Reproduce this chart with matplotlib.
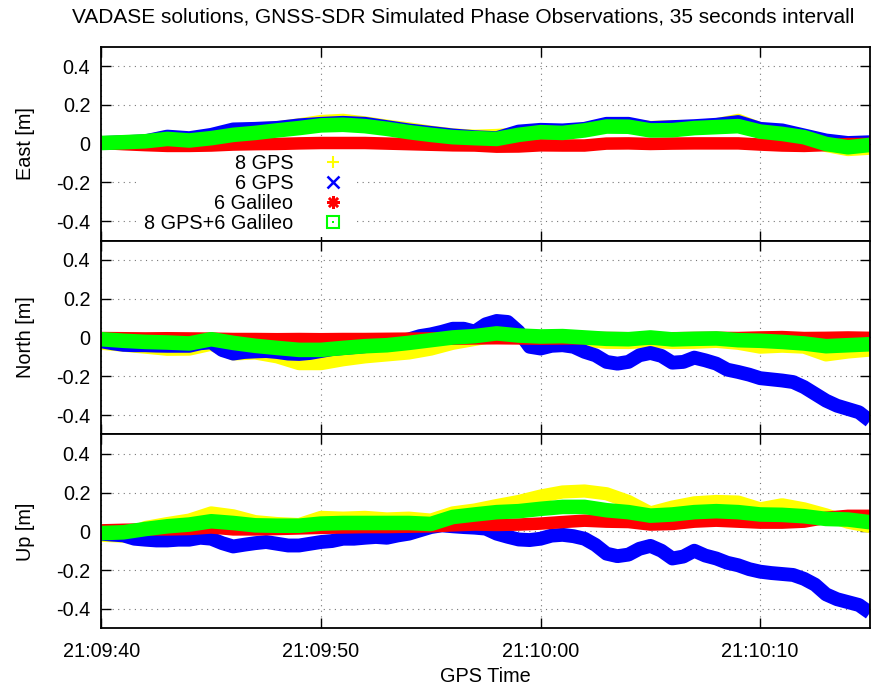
import numpy as np
import matplotlib.pyplot as plt
from matplotlib.lines import Line2D
from matplotlib.ticker import FuncFormatter, MultipleLocator

plt.rcParams['font.family'] = ['Liberation Sans', 'DejaVu Sans']
plt.rcParams['font.size'] = 14.3

# time axis, seconds after 21:09:40
t_coarse = np.arange(0, 36, 1.0)
t_fine = np.arange(0, 35.5, 0.5)

# East [m]
east_8gps = [0.003, 0.007, 0.012, 0.036, 0.024, 0.042, 0.069, 0.076, 0.081, 0.097, 0.114, 0.12,
             0.107, 0.09, 0.076, 0.059, 0.045, 0.038, 0.042, 0.05, 0.062, 0.062, 0.076, 0.097,
             0.097, 0.083, 0.088, 0.088, 0.097, 0.12, 0.076, 0.062, 0.033, -0.010, -0.031, -0.024]
east_6gps = [0.003, 0.007, 0.012, 0.036, 0.028, 0.045, 0.073, 0.076, 0.081, 0.094, 0.102, 0.107,
             0.102, 0.085, 0.068, 0.055, 0.042, 0.033, 0.028, 0.062, 0.071, 0.068, 0.076, 0.102,
             0.102, 0.080, 0.085, 0.090, 0.097, 0.111, 0.076, 0.068, 0.042, 0.016, 0.003, 0.007]
east_6gal = [0.003, -0.003, -0.008, -0.012, -0.012, -0.010, -0.005, -0.003, -0.002, 0.001, 0.003, 0.003,
             0.003, 0.0, -0.003, -0.006, -0.009, -0.010, -0.016, -0.015, -0.009, -0.010, -0.010, 0.0,
             0.001, -0.002, 0.0, 0.001, 0.001, 0.001, -0.005, -0.010, -0.012, -0.008, -0.003, -0.002]
east_comb = [0.003, 0.007, 0.012, 0.024, 0.016, 0.028, 0.045, 0.055, 0.068, 0.08, 0.094, 0.097,
             0.09, 0.076, 0.059, 0.045, 0.033, 0.028, 0.024, 0.045, 0.059, 0.055, 0.068, 0.088,
             0.087, 0.068, 0.069, 0.08, 0.085, 0.09, 0.062, 0.05, 0.033, -0.002, -0.019, -0.007]

# North [m]
north_8gps = [-0.03, -0.04, -0.05, -0.061, -0.06, -0.035, -0.085, -0.08, -0.1, -0.135, -0.135, -0.115,
              -0.1, -0.09, -0.08, -0.06, -0.03, -0.01, 0.01, 0.0, 0.0, -0.005, -0.015, -0.025,
              -0.026, -0.02, -0.026, -0.025, -0.02, -0.03, -0.05, -0.045, -0.05, -0.09, -0.075, -0.065]
north_6gps = [-0.02, -0.03, -0.038, -0.04, -0.04, -0.042, -0.043, -0.043, -0.043, -0.03, -0.025, -0.065,
              -0.083, -0.075, -0.072, -0.07, -0.075, -0.083, -0.085, -0.08, -0.07, -0.06, -0.055, -0.05,
              -0.045, -0.035, -0.03, -0.02, -0.01, 0.007, 0.016, 0.029, 0.045, 0.045, 0.03, 0.068,
              0.085, 0.08, 0.03, -0.048, -0.057, -0.043, -0.040, -0.048, -0.074, -0.092, -0.126, -0.135,
              -0.126, -0.092, -0.080, -0.095, -0.130, -0.126, -0.104, -0.118, -0.135, -0.166, -0.178, -0.192,
              -0.21, -0.216, -0.222, -0.230, -0.256, -0.291, -0.326, -0.352, -0.369, -0.386, -0.43]
north_6gal = [-0.003, -0.004, -0.005, -0.004, -0.005, -0.006, -0.008, -0.008, -0.009, -0.008, -0.009, -0.008,
              -0.008, -0.007, -0.006, -0.005, -0.006, -0.005, -0.004, -0.005, -0.006, -0.005, -0.004, -0.003,
              -0.004, -0.005, -0.004, -0.003, -0.002, -0.003, 0.0, 0.002, -0.003, -0.002, 0.0, -0.002]
north_comb = [-0.009, -0.017, -0.023, -0.026, -0.031, -0.009, -0.028, -0.043, -0.054, -0.064, -0.064, -0.054,
              -0.045, -0.040, -0.028, -0.014, 0.0, 0.007, 0.021, 0.010, 0.005, 0.007, 0.0, -0.007,
              -0.009, 0.0, -0.010, -0.007, -0.005, -0.014, -0.017, -0.023, -0.031, -0.045, -0.040, -0.035]

# Up [m]
up_8gps = [-0.02, -0.025, 0.02, 0.04, 0.058, 0.095, 0.08, 0.05, 0.04, 0.035, 0.072, 0.068,
           0.072, 0.064, 0.068, 0.058, 0.095, 0.11, 0.133, 0.154, 0.182, 0.203, 0.208, 0.194,
           0.154, 0.095, 0.125, 0.147, 0.154, 0.151, 0.116, 0.137, 0.116, 0.085, 0.047, 0.025]
up_6gps = [-0.012, -0.017, -0.021, -0.038, -0.043, -0.047, -0.047, -0.043, -0.043, -0.033, -0.038, -0.061,
           -0.078, -0.069, -0.061, -0.055, -0.064, -0.073, -0.073, -0.064, -0.055, -0.05, -0.038, -0.038,
           -0.033, -0.029, -0.033, -0.021, -0.012, 0.005, 0.022, 0.031, 0.026, 0.022, 0.019, 0.014,
           -0.012, -0.028, -0.042, -0.045, -0.038, -0.022, -0.018, -0.025, -0.038, -0.07, -0.115, -0.128,
           -0.12, -0.09, -0.075, -0.1, -0.14, -0.13, -0.1, -0.125, -0.14, -0.162, -0.175, -0.195,
           -0.208, -0.215, -0.22, -0.225, -0.245, -0.275, -0.325, -0.35, -0.365, -0.38, -0.42]
up_6gal = [0.005, 0.008, 0.01, 0.01, 0.012, 0.02, 0.01, 0.01, 0.012, 0.015, 0.018, 0.02,
           0.022, 0.022, 0.024, 0.026, 0.031, 0.035, 0.033, 0.035, 0.04, 0.048, 0.055, 0.05,
           0.048, 0.035, 0.038, 0.05, 0.055, 0.05, 0.045, 0.045, 0.05, 0.07, 0.08, 0.08]
up_comb = [-0.009, -0.005, 0.012, 0.026, 0.035, 0.052, 0.043, 0.031, 0.029, 0.029, 0.040, 0.043,
           0.043, 0.043, 0.043, 0.038, 0.074, 0.087, 0.099, 0.104, 0.116, 0.126, 0.126, 0.109,
           0.099, 0.081, 0.087, 0.099, 0.104, 0.099, 0.087, 0.085, 0.078, 0.064, 0.061, 0.047]

labels = ['8 GPS', '6 GPS', '6 Galileo', '8 GPS+6 Galileo']
colors = ['#ffff00', '#0000ff', '#ff0000', '#00ff00']
widths = [9.5, 10.0, 9.0, 10.5]
panels = [
    ('East [m]', [(t_coarse, east_8gps), (t_coarse, east_6gps), (t_coarse, east_6gal), (t_coarse, east_comb)]),
    ('North [m]', [(t_coarse, north_8gps), (t_fine, north_6gps), (t_coarse, north_6gal), (t_coarse, north_comb)]),
    ('Up [m]', [(t_coarse, up_8gps), (t_fine, up_6gps), (t_coarse, up_6gal), (t_coarse, up_comb)]),
]


def fmt_time(x, pos):
    s = int(round(x)) + 40
    return '21:%02d:%02d' % (9 + s // 60, s % 60)


fig = plt.figure(figsize=(8.71, 6.88), dpi=100)
left, width, h = 0.1165, 0.8823, 0.2818
bottoms = [0.6504, 0.3686, 0.0868]

axes = []
for i, (ylabel, series) in enumerate(panels):
    ax = fig.add_axes([left, bottoms[i], width, h])
    for (tt, vals), c, lw in zip(series, colors, widths):
        ax.plot(tt, vals, color=c, lw=lw, solid_joinstyle='round', solid_capstyle='butt')
    ax.set_xlim(0, 35)
    ax.set_ylim(-0.5, 0.5)
    ax.set_yticks([-0.4, -0.2, 0, 0.2, 0.4])
    ax.set_yticklabels(['-0.4', '-0.2', '0', '0.2', '0.4'])
    ax.xaxis.set_major_locator(MultipleLocator(10))
    ax.xaxis.set_major_formatter(FuncFormatter(fmt_time))
    ax.set_axisbelow(True)
    ax.grid(True, color='#777777', linestyle=(0, (1, 4)), lw=0.8)
    ax.tick_params(direction='in', length=7, width=1, top=True, right=True, labelsize=14.3)
    ax.tick_params(axis='y', pad=8)
    ax.tick_params(axis='x', pad=10)
    for sp in ax.spines.values():
        sp.set_linewidth(1.3)
    ax.set_ylabel(ylabel, fontsize=14.3, labelpad=15)
    if i < 2:
        ax.tick_params(labelbottom=False)
    axes.append(ax)

axes[2].set_xlabel('GPS Time', fontsize=14.3, labelpad=4)

# legend handles as in gnuplot point types
h_yellow = Line2D([], [], ls='none', marker='+', ms=9, mew=1.5, color=colors[0])
h_blue = Line2D([], [], ls='none', marker='x', ms=8, mew=1.8, color=colors[1])
h_red = Line2D([], [], ls='none', marker=(8, 2, 0), ms=9, mew=1.8, color=colors[2])
h_green = (Line2D([], [], ls='none', marker='s', ms=9, mew=1.5, mfc='none', mec=colors[3]),
           Line2D([], [], ls='none', marker='s', ms=2, mew=0, color=colors[3]))
leg = axes[0].legend([h_yellow, h_blue, h_red, h_green], labels, loc='upper right',
                     bbox_to_anchor=(0.3325, 0.4675), markerfirst=False, fontsize=14.3,
                     frameon=True, fancybox=False, framealpha=1, facecolor='white',
                     edgecolor='none', handlelength=2.0, handletextpad=1.0,
                     borderpad=0.2, labelspacing=0.05, borderaxespad=0)
leg.set_zorder(1.5)

fig.text(0.532, 0.975, 'VADASE solutions, GNSS-SDR Simulated Phase Observations, 35 seconds intervall',
         ha='center', va='center', fontsize=15)

fig.savefig('out.png', dpi=100)
